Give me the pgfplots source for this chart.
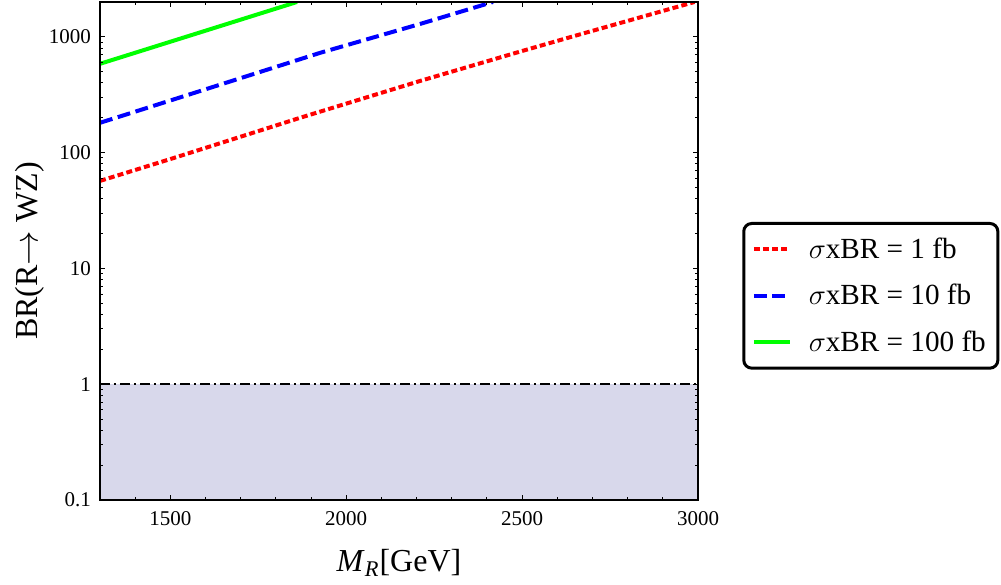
\documentclass[border=0pt]{standalone}
\usepackage{pgfplots}
\pgfplotsset{compat=1.18}
\usepackage{fontspec}
\setmainfont{Liberation Serif}
\definecolor{lav}{RGB}{216,216,235}
\definecolor{mred}{RGB}{255,0,0}
\definecolor{mblue}{RGB}{0,0,255}
\definecolor{mgreen}{RGB}{0,255,0}
\begin{document}
\begin{tikzpicture}
\path[use as bounding box] (0,0) rectangle (500.5pt,292pt);
\begin{axis}[
  at={(50pt,42pt)}, anchor=south west,
  scale only axis, width=299pt, height=249pt,
  xmin=1300, xmax=3000, ymode=log, ymin=0.1, ymax=2000,
  xtick={1500,2000,2500,3000}, xticklabels={1500,2000,2500,3000},
  minor xtick={1300,1400,1600,1700,1800,1900,2100,2200,2300,2400,2600,2700,2800,2900},
  ytick={0.1,1,10,100,1000}, yticklabels={0.1,1,10,100,1000},
  minor ytick={0.2,0.3,0.4,0.5,0.6,0.7,0.8,0.9,2,3,4,5,6,7,8,9,20,30,40,50,60,70,80,90,200,300,400,500,600,700,800,900,2000},
  tick align=inside, major tick length=2.5pt, minor tick length=1.5pt,
  tick style={black, line width=0.5pt},
  axis line style={line width=0.6pt},
  ticklabel style={font=\fontsize{10.5}{12}\selectfont},
  yticklabel style={xshift=-1pt},
  xticklabel style={yshift=-2pt},
  axis on top,
  xlabel={\textit{M}\textsubscript{\textit{R}}[GeV]},
  ylabel={BR(R$\rightarrow$ WZ)},
  label style={font=\fontsize{16}{19}\selectfont},
  xlabel style={at={(axis description cs:0.5,-0.1265)}, anchor=center},
  ylabel style={at={(axis description cs:-0.117,0.5)}, anchor=center},
  legend style={at={(1.074,0.41)}, anchor=west, draw=black, line width=1.5pt,
    rounded corners=4pt, font=\fontsize{14.6}{17}\selectfont,
    row sep=7.5pt, inner xsep=4pt, inner ysep=5pt},
  legend cell align=left,
  legend image code/.code={\draw[#1, rounded corners=0pt] (0pt,0pt) -- (18pt,0pt); \path (24.5pt,0pt);},
]
\addplot[fill=lav, draw=none, forget plot] coordinates {(1300,0.1) (3000,0.1) (3000,1) (1300,1) (1300,0.1)};
\addplot[black, line width=0.75pt, dash pattern=on 5pt off 2pt on 1pt off 2pt, forget plot] coordinates {(1300,1) (3000,1)};
\addplot[mred, line width=2pt, dash pattern=on 3pt off 1.6pt] coordinates {
(1300,57) (1500,88) (1869,200) (2211,417) (2500,755) (2669,1060) (2990,2000)};
\addlegendentry{$\sigma$xBR = 1 fb}
\addplot[mblue, line width=2pt, dash pattern=on 6.5pt off 2.8pt] coordinates {
(1300,181) (1500,282) (1926,728) (2211,1295) (2417,2000)};
\addlegendentry{$\sigma$xBR = 10 fb}
\addplot[mgreen, line width=2pt] coordinates {
(1300,585) (1860,2000)};
\addlegendentry{$\sigma$xBR = 100 fb}
\end{axis}
\end{tikzpicture}
\end{document}
